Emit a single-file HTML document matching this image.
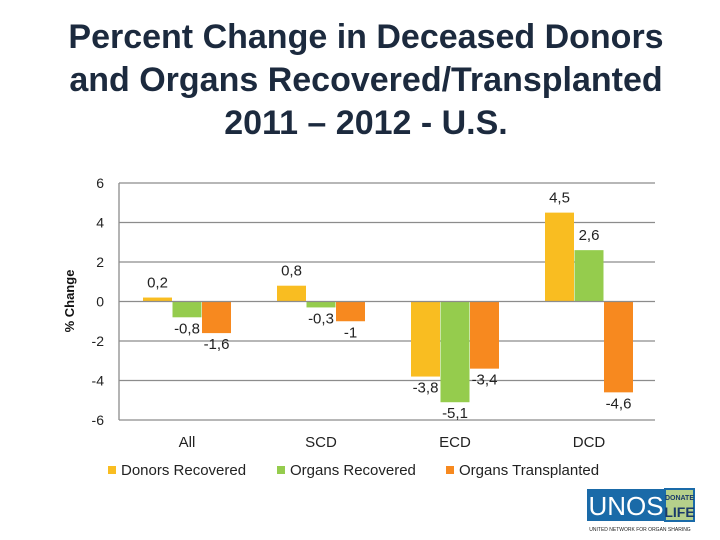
<!DOCTYPE html>
<html><head><meta charset="utf-8"><style>
body{margin:0;width:720px;height:540px;background:#fff;overflow:hidden;font-family:"Liberation Sans",sans-serif}
#title{position:absolute;left:0;top:16px;width:732px;text-align:center;font-weight:bold;font-size:34px;line-height:43px;color:#1c2a3e}
svg{position:absolute;left:0;top:0}
</style></head><body>
<div id="title">Percent Change in Deceased Donors<br>and Organs Recovered/Transplanted<br>2011 – 2012 - U.S.</div>
<svg id="chart" width="720" height="540"></svg>
<script>
const categories=["All","SCD","ECD","DCD"];
const donorsRecovered=[0.2,0.8,-3.8,4.5];
const organsRecovered=[-0.8,-0.3,-5.1,2.6];
const organsTransplanted=[-1.6,-1,-3.4,-4.6];
const seriesNames=["Donors Recovered","Organs Recovered","Organs Transplanted"];
const yTicks=[6,4,2,0,-2,-4,-6];
const colors=["#f9bd21","#95cc4d","#f7891f"];
const svg=document.getElementById('chart');
const NS="http://www.w3.org/2000/svg";
const x0=119,x1=655,yTop=183,yBot=420,yMin=-6,yMax=6;
const y=v=>yTop+(yMax-v)/(yMax-yMin)*(yBot-yTop);
const catW=(x1-x0)/categories.length;
function mk(t,a,txt){const e=document.createElementNS(NS,t);for(const k in a)e.setAttribute(k,a[k]);if(txt!==undefined)e.textContent=txt;svg.appendChild(e);return e;}
const lblFont='"Liberation Sans",sans-serif';
yTicks.forEach(t=>{
 if(t!==0){const g=mk('line',{x1:x0,x2:x1,y1:y(t),y2:y(t),stroke:'#8c8c8c','stroke-width':1.3});
 
 }
 const l=mk('text',{x:104,y:y(t)+5,'text-anchor':'end','font-size':14,fill:'#222','font-family':lblFont},String(t));
 
 
});
const ax=mk('line',{x1:x0,x2:x0,y1:yTop,y2:yBot,stroke:'#8c8c8c','stroke-width':1.3});


const yt=mk('text',{transform:'translate(74,301) rotate(-90)','text-anchor':'middle','font-size':13,'font-weight':'bold',fill:'#111','font-family':lblFont},'% Change');


const series=[donorsRecovered,organsRecovered,organsTransplanted];
categories.forEach((c,i)=>{
 const cx=x0+catW*i;
 series.forEach((s,j)=>{
  const v=s[i];const bx=cx+24+j*29.5;
  const top=Math.min(y(v),y(0)),h=Math.abs(y(v)-y(0));
  const r=mk('rect',{x:bx,y:top,width:29,height:Math.max(h,1),fill:colors[j]});
  
  
  const ly=v>=0?top-10:top+h+16;
  const t=mk('text',{x:bx+14.5,y:ly,'text-anchor':'middle','font-size':15,fill:'#222','font-family':lblFont},String(v).replace('.',','));
  
  
 });
 const cl=mk('text',{x:cx+catW/2+1,y:447,'text-anchor':'middle','font-size':15,fill:'#222','font-family':lblFont},c);
 
 
});
const zl=mk('line',{x1:x0,x2:x1,y1:y(0),y2:y(0),stroke:'#8c8c8c','stroke-width':1.3});


const lx=[108,277,446];
seriesNames.forEach((n,j)=>{
 const r=mk('rect',{x:lx[j],y:466,width:8,height:8,fill:colors[j]});
 
 
 const t=mk('text',{x:lx[j]+13,y:475,'font-size':15,fill:'#222','font-family':lblFont},n);
 
 
});
</script>
<svg width="720" height="540" style="position:absolute;left:0;top:0">
<rect x="587" y="489" width="78" height="32" fill="#1a6aa8"/>
<text x="626" y="515" text-anchor="middle" font-size="26" fill="#fff" font-family="Liberation Sans,sans-serif">UNOS</text>
<rect x="665" y="489" width="29" height="32" fill="#b5d08b" stroke="#1a6aa8" stroke-width="2"/>
<text x="679.5" y="500" text-anchor="middle" font-size="7" font-weight="bold" fill="#1a3a6a" font-family="Liberation Sans,sans-serif">DONATE</text>
<text x="679.5" y="517" text-anchor="middle" font-size="14" font-weight="bold" fill="#1a3a6a" font-family="Liberation Sans,sans-serif">LIFE</text>
<text x="640" y="531" text-anchor="middle" font-size="5" fill="#222" font-family="Liberation Sans,sans-serif">UNITED NETWORK FOR ORGAN SHARING</text>
</svg>
</body></html>
